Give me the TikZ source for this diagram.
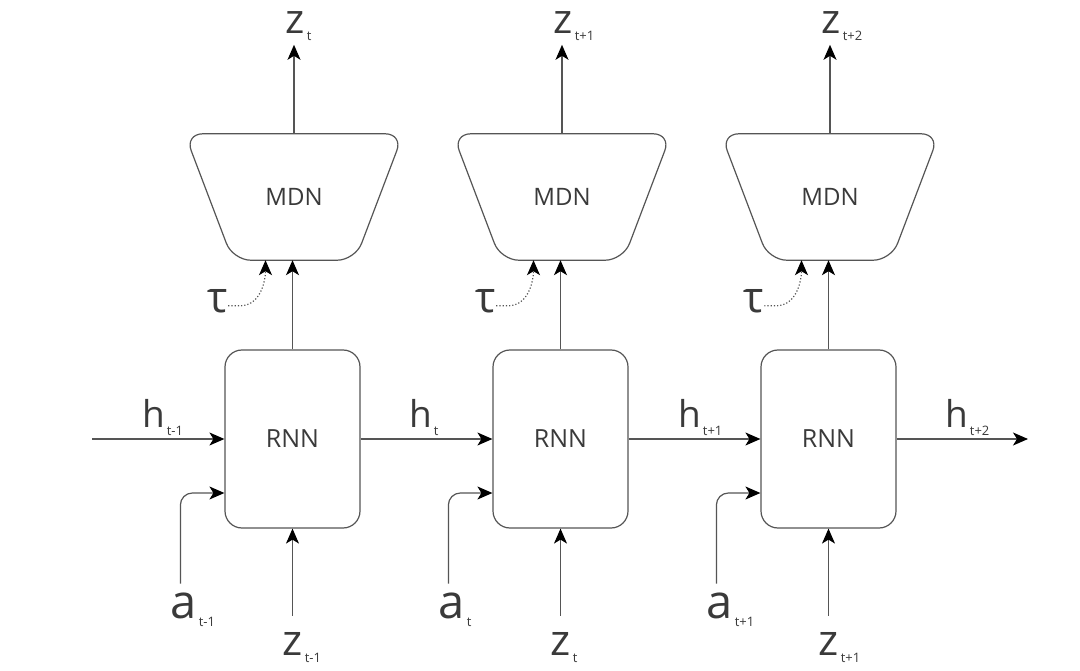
\documentclass[tikz,border=0pt]{standalone}
\usepackage{fontspec}
\setmainfont{Open Sans}
\usetikzlibrary{arrows.meta,calc}
\definecolor{ln}{HTML}{555555}
\definecolor{tx}{HTML}{3A3A3A}
\newcommand\mylab[4]{{\fontsize{#1}{#1}\selectfont #2}\kern2pt\raisebox{-#4pt}{\fontsize{13}{13}\selectfont #3}}
\begin{document}
\begin{tikzpicture}[x=1pt,y=-1pt,
  tip/.style={-{Stealth[length=15pt,width=13pt,inset=4pt,color=black]}},
  conn/.style={draw=ln, line width=1.2pt, tip},
  rnnbox/.style={draw=ln, line width=1.2pt, rounded corners=17pt, minimum width=135pt, minimum height=178pt, inner sep=0pt, text=tx, font=\fontsize{25}{25}\selectfont},
  mdnbox/.style={minimum width=218pt, minimum height=126pt, inner sep=0pt, text=tx, font=\fontsize{24}{24}\selectfont},
  mdnline/.style={draw=ln, line width=1.2pt, rounded corners=18pt},
  lab/.style={inner sep=0pt, anchor=base west, text=tx}]
\useasboundingbox (0,0) rectangle (1080,671);
\fill[white] (0,0) rectangle (1080,671);
\foreach \i/\zt/\zb/\at [evaluate=\i as \cx using 292.5+268*(\i-1)] in {1/t/t-1/t-1, 2/t+1/t/t, 3/t+2/t+1/t+1}{
  \node[rnnbox] (r\i) at (\cx,439) {RNN};
  \node[mdnbox] (m\i) at (\cx+1.5,197) {MDN};
  \path[mdnline] (m\i.north) -- (m\i.north east) -- ([xshift=-48pt]m\i.south east) -- ([xshift=48pt]m\i.south west) -- (m\i.north west) -- cycle;
  \node[lab] (zt\i) at (\cx-7,34) {\mylab{41}{z}{\zt}{7}};
  \node[lab] (tau\i) at (\cx-85,313) {\fontsize{43}{43}\selectfont τ};
  \node[lab] (a\i) at (\cx-122,618) {\mylab{47}{a}{\at}{8}};
  \node[lab] (zb\i) at (\cx-10,655) {\mylab{43}{z}{\zb}{7}};
  \coordinate (ztop\i) at ($(m\i.north)+(0,-89)$);
  \coordinate (zbot\i) at ($(r\i.south)+(0,87)$);
  \coordinate (abot\i) at ($(r\i.south west)+(-44,55)$);
  \draw[conn] (m\i.north) -- (ztop\i);
  \draw[conn] (r\i.north) -- (r\i.north |- m\i.south);
  \draw[conn] (zbot\i) -- (r\i.south);
  \draw[conn, rounded corners=12pt] (abot\i) |- ([yshift=-54pt]r\i.west);
  \draw[draw=ln, line width=1.2pt, dotted, tip] ([yshift=-4pt]tau\i.east) -- ++(12,0) to[out=0,in=-90] ([xshift=-27pt]r\i.north |- m\i.south);
}
\coordinate (hin) at (92,439);
\coordinate (hout) at (1028,439);
\draw[conn] (hin) -- (r1.west);
\draw[conn] (r1.east) -- (r2.west);
\draw[conn] (r2.east) -- (r3.west);
\draw[conn] (r3.east) -- (hout);
\node[lab] (h0) at (142,427) {\mylab{37}{h}{t-1}{9}};
\node[lab] (h1) at (409,427) {\mylab{37}{h}{t}{9}};
\node[lab] (h2) at (678,427) {\mylab{37}{h}{t+1}{9}};
\node[lab] (h3) at (945,427) {\mylab{37}{h}{t+2}{9}};
\end{tikzpicture}
\end{document}
